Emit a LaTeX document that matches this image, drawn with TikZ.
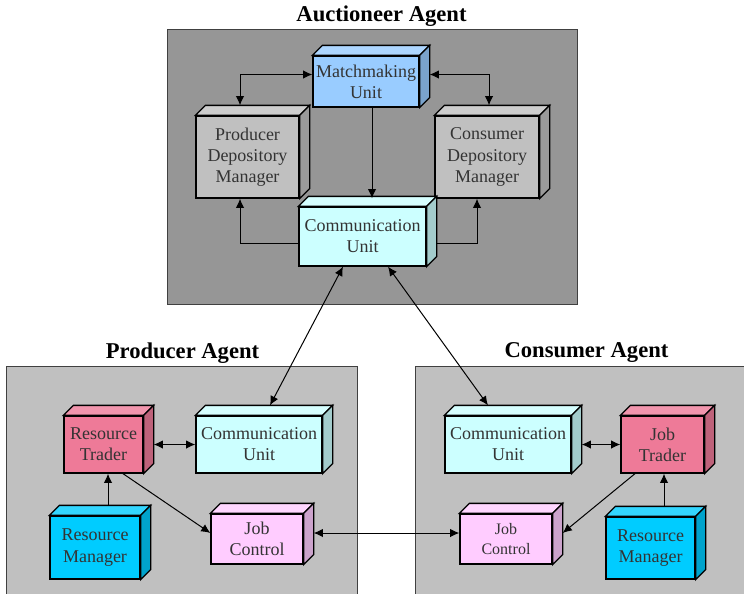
\documentclass[tikz,border=0pt]{standalone}
\usepackage{fontspec}
\setmainfont{Liberation Serif}
\usetikzlibrary{arrows.meta}

\begin{document}
\begin{tikzpicture}[
    x=0.5pt, y=-0.5pt,
    blocco/.style={draw=black, line width=0.65pt, inner sep=1pt, align=center, text=black!80,
        font=\fontsize{9}{10.6}\selectfont},
    agente/.style={draw=black!75, line width=0.5pt},
    titolo/.style={font=\fontsize{11.3}{13}\selectfont\bfseries},
    freccia/.style={-{Latex[length=4.6pt,width=4.2pt]}, line width=0.5pt},
    doppia/.style={{Latex[length=4.6pt,width=4.2pt]}-{Latex[length=4.6pt,width=4.2pt]}, line width=0.5pt}
    ]
    % Definizione colori
    \definecolor{colorAsta}{RGB}{150, 150, 150}
    \definecolor{colorAgente}{RGB}{192, 192, 192}
    \definecolor{colorMatch}{RGB}{153, 204, 255}
    \definecolor{colorDeposito}{RGB}{192, 192, 192}
    \definecolor{colorComunica}{RGB}{204, 255, 255}
    \definecolor{colorTrader}{RGB}{238, 122, 152}
    \definecolor{colorRisorse}{RGB}{0, 204, 255}
    \definecolor{colorJob}{RGB}{255, 204, 255}

    \clip (0,0) rectangle (744,594);
    \fill[white] (0,0) rectangle (744,594);

    % Riquadri degli agenti
    \draw[agente, fill=colorAsta] (167,29) rectangle (577,304);
    \draw[agente, fill=colorAgente] (6,366) rectangle (357,610);
    \draw[agente, fill=colorAgente] (415,366) rectangle (760,610);
    \node[titolo] (tAsta) at (381.5,16) {Auctioneer Agent};
    \node[titolo] (tProd) at (182.5,353) {Producer Agent};
    \node[titolo] (tCons) at (586.5,353) {Consumer Agent};

    % Blocchi del banditore
    \node[blocco, fill=colorMatch, minimum width=53pt, minimum height=25.5pt] (match) at (366,81.5) {Matchmaking\\Unit};
    \node[blocco, fill=colorDeposito, minimum width=51.5pt, minimum height=41pt] (depProd) at (247.5,157) {Producer\\Depository\\Manager};
    \node[blocco, fill=colorDeposito, minimum width=52pt, minimum height=41pt] (depCons) at (487,157) {Consumer\\Depository\\Manager};
    \node[blocco, fill=colorComunica, minimum width=63.5pt, minimum height=29.5pt] (comAsta) at (362.5,236.5) {Communication\\Unit};

    % Blocchi del produttore
    \node[blocco, fill=colorTrader, minimum width=39.5pt, minimum height=28.5pt] (resTrader) at (103.5,444.5) {Resource\\Trader};
    \node[blocco, fill=colorComunica, minimum width=63pt, minimum height=28.5pt] (comProd) at (259,444.5) {Communication\\Unit};
    \node[blocco, fill=colorRisorse, minimum width=45pt, minimum height=31.5pt] (resProd) at (95,547.5) {Resource\\Manager};
    \node[blocco, fill=colorJob, minimum width=46pt, minimum height=25pt] (jobProd) at (257,539) {Job\\Control};

    % Blocchi del consumatore
    \node[blocco, fill=colorComunica, minimum width=63pt, minimum height=28.5pt] (comCons) at (508,444.5) {Communication\\Unit};
    \node[blocco, fill=colorTrader, minimum width=41.5pt, minimum height=28.5pt] (jobTrader) at (662.5,444.5) {Job\\Trader};
    \node[blocco, fill=colorJob, minimum width=46pt, minimum height=25pt, font=\fontsize{8}{10}\selectfont] (jobCons) at (506,539) {Job\\Control};
    \node[blocco, fill=colorRisorse, minimum width=44.5pt, minimum height=31pt] (resCons) at (650.5,548) {Resource\\Manager};

    % Facce superiori e laterali
    \foreach \n/\c in {match/colorMatch, depProd/colorDeposito, depCons/colorDeposito, comAsta/colorComunica,
        resTrader/colorTrader, comProd/colorComunica, resProd/colorRisorse, jobProd/colorJob,
        comCons/colorComunica, jobTrader/colorTrader, jobCons/colorJob, resCons/colorRisorse} {
        \draw[line width=0.65pt, fill=\c!80!white] (\n.north west) -- ++(5pt,5pt)
            -- ([shift={(5pt,5pt)}]\n.north east) -- (\n.north east) -- cycle;
        \draw[line width=0.65pt, fill=\c!80!black] (\n.north east) -- ++(5pt,5pt)
            -- ([shift={(5pt,5pt)}]\n.south east) -- (\n.south east) -- cycle;
    }

    % Collegamenti nel banditore
    \draw[doppia] ([yshift=3.5pt]match.west) -| ([shift={(-3.75pt,5pt)}]depProd.north);
    \draw[doppia] ([shift={(5pt,3.5pt)}]match.east) -| ([shift={(1pt,5pt)}]depCons.north);
    \draw[freccia] ([xshift=3pt]match.south) -- ([shift={(4.75pt,4pt)}]comAsta.north);
    \draw[freccia] ([yshift=-3.25pt]comAsta.west) -| ([xshift=-3.75pt]depProd.south);
    \draw[freccia] ([shift={(5pt,-3.25pt)}]comAsta.east) -| ([xshift=-5pt]depCons.south);

    % Collegamenti tra agenti
    \draw[doppia] ([xshift=-9.75pt]comAsta.south) -- ([shift={(5.5pt,5pt)}]comProd.north);
    \draw[doppia] ([xshift=12.75pt]comAsta.south) -- ([shift={(-10pt,5pt)}]comCons.north);
    \draw[doppia] ([shift={(5pt,3pt)}]jobProd.east) -- ([yshift=3pt]jobCons.west);

    % Collegamenti nel produttore
    \draw[doppia] ([xshift=5pt]resTrader.east) -- (comProd.west);
    \draw[freccia] ([shift={(6.5pt,5pt)}]resProd.north) -- ([xshift=2.25pt]resTrader.south);
    \draw[freccia] ([xshift=9.75pt]resTrader.south) -- ([yshift=3pt]jobProd.west);

    % Collegamenti nel consumatore
    \draw[doppia] ([xshift=5pt]comCons.east) -- (jobTrader.west);
    \draw[freccia] ([shift={(6.75pt,5pt)}]resCons.north) -- ([xshift=0.75pt]jobTrader.south);
    \draw[freccia] ([xshift=-13.75pt]jobTrader.south) -- ([shift={(5pt,3pt)}]jobCons.east);
\end{tikzpicture}
\end{document}
